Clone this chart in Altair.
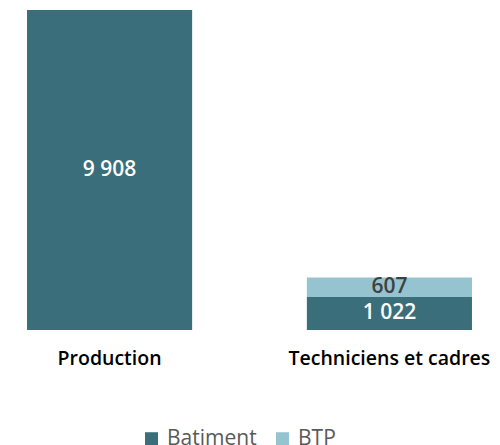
import altair as alt
import pandas as pd

categories = ["Production", "Techniciens et cadres"]
batiment = [9908, 1022]
btp = [0, 607]
series = ["Batiment", "BTP"]
colors = ["#3a6e7a", "#95c3cf"]

rows = []
for i, c in enumerate(categories):
    rows.append({"cat": c, "serie": "Batiment", "value": batiment[i], "ord": 0})
    rows.append({"cat": c, "serie": "BTP", "value": btp[i], "ord": 1})
df = pd.DataFrame(rows)
df["label"] = df["value"].map(lambda v: f"{v:,}".replace(",", " "))

FONT = "Open Sans"

x = alt.X("cat:N", sort=categories, title=None,
          scale=alt.Scale(paddingInner=0.41, paddingOuter=0.068),
          axis=alt.Axis(labelAngle=0, domain=False, ticks=False, labelPadding=19,
                        labelFontSize=19.5, labelColor="#000000", labelFont=FONT,
                        labelFontWeight=600, labelLimit=0, labelOverlap=False))

bars = alt.Chart(df).mark_bar().encode(
    x=x,
    y=alt.Y("value:Q", stack="zero", scale=alt.Scale(domain=[0, 9908], nice=False),
            axis=None),
    color=alt.Color("serie:N", sort=series,
                    scale=alt.Scale(domain=series, range=colors),
                    legend=alt.Legend(title=None, orient="none", direction="horizontal",
                                      legendX=133, legendY=418, symbolType="square",
                                      symbolSize=170, symbolStrokeWidth=0,
                                      labelFontSize=21, labelColor="#595959",
                                      labelFont=FONT, columnPadding=15, labelOffset=5,
                                      symbolOpacity=1)),
    order=alt.Order("ord:Q"),
)

texts = alt.Chart(df).transform_filter("datum.value > 0").transform_stack(
    stack="value", groupby=["cat"], as_=["v0", "v1"],
    sort=[alt.SortField("ord", order="ascending")]
).transform_calculate(
    mid="(datum.v0 + datum.v1) / 2"
).mark_text(font=FONT, fontSize=21, fontWeight=600, baseline="middle").encode(
    x=alt.X("cat:N", sort=categories),
    y=alt.Y("mid:Q"),
    text="label:N",
    color=alt.condition("datum.serie == 'Batiment'", alt.value("#ffffff"), alt.value("#404040")),
)

chart = alt.layer(bars, texts).properties(
    width=483, height=320,
    autosize=alt.AutoSizeParams(type="none"),
    padding={"left": 0, "top": 2, "right": 0, "bottom": 120},
).configure_view(stroke=None)

chart.save("out.html", embed_options={"renderer": "svg", "actions": False})
